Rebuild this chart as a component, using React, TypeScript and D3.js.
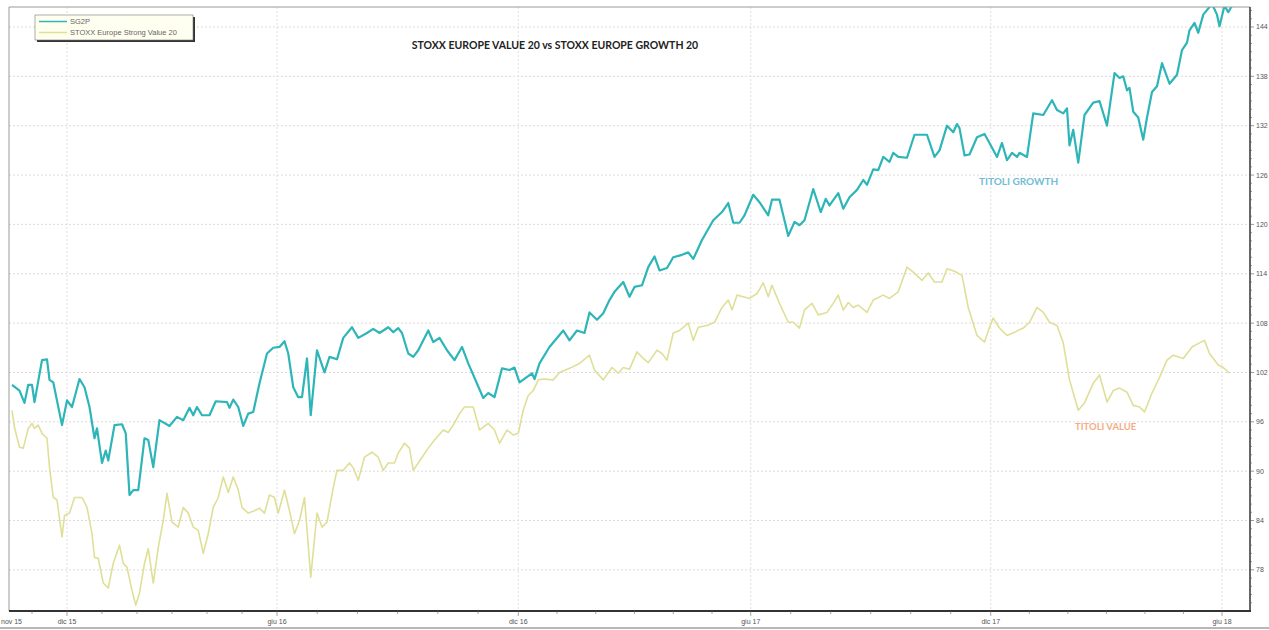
import React, { useEffect, useRef } from "react";
import * as d3 from "d3";

const width = 1269;
const height = 630;

// x values are days counted from the first session shown (mid Oct 2015)
const growthDays = [0, 6, 10, 13, 16, 18, 24, 28, 30, 33, 40, 44, 48, 54, 58, 62, 66, 68, 72, 75, 77, 82, 88, 91, 94, 97, 101, 106, 109, 113, 118, 126, 132, 137, 142, 145, 148, 152, 158, 163, 172, 174, 177, 181, 185, 189, 193, 198, 204, 209, 214, 218, 221, 225, 229, 232, 236, 239, 244, 248, 250, 254, 260, 265, 272, 277, 284, 289, 294, 301, 305, 309, 312, 317, 321, 325, 333, 337, 342, 348, 354, 360, 365, 377, 381, 386, 392, 398, 402, 406, 416, 418, 422, 430, 441, 446, 452, 458, 462, 468, 473, 478, 482, 489, 494, 498, 504, 509, 514, 518, 524, 529, 536, 541, 545, 552, 561, 568, 573, 577, 582, 586, 593, 598, 605, 608, 614, 621, 626, 630, 634, 641, 647, 651, 654, 661, 665, 670, 676, 681, 684, 689, 693, 697, 702, 705, 709, 716, 722, 728, 732, 738, 742, 748, 753, 756, 758, 762, 766, 772, 778, 782, 788, 792, 796, 800, 804, 806, 812, 817, 825, 832, 836, 841, 844, 846, 849, 853, 858, 865, 870, 876, 882, 886, 889, 892, 894, 897, 901, 905, 908, 912, 916, 920, 926, 932, 936, 940, 942, 946, 949, 953, 960, 964, 966, 970, 973, 976];
const growthValues = [100.5, 99.8, 98.3, 100.5, 100.5, 98.4, 103.5, 103.6, 101.1, 100.8, 95.6, 98.6, 97.8, 101.2, 100.2, 97.8, 94.0, 95.2, 91.0, 92.5, 91.3, 95.6, 95.7, 94.6, 87.1, 87.7, 87.7, 94.0, 93.8, 90.5, 96.2, 95.5, 96.6, 96.2, 97.7, 96.8, 97.8, 96.8, 96.8, 98.5, 98.4, 97.7, 98.7, 97.8, 95.5, 97.0, 97.2, 100.7, 104.3, 105.0, 105.1, 105.8, 104.3, 100.2, 99.0, 99.0, 103.7, 96.8, 104.7, 102.9, 102.0, 103.9, 103.6, 106.2, 107.5, 106.2, 106.8, 107.3, 106.8, 107.5, 106.9, 107.4, 106.8, 104.3, 103.9, 104.7, 107.1, 105.7, 106.2, 104.7, 103.5, 105.1, 103.1, 98.9, 99.5, 99.0, 102.5, 102.3, 102.6, 100.8, 101.9, 101.2, 103.1, 105.1, 107.1, 105.9, 107.1, 106.8, 109.3, 108.4, 109.2, 110.8, 111.8, 113.0, 111.2, 112.4, 112.6, 114.8, 116.1, 114.4, 114.7, 116.0, 116.3, 116.6, 115.8, 118.1, 120.5, 121.5, 122.6, 120.2, 120.2, 121.1, 123.6, 122.7, 121.1, 123.0, 123.0, 118.6, 120.3, 119.9, 120.5, 124.3, 121.5, 123.1, 122.3, 123.8, 121.9, 123.3, 124.2, 125.4, 124.8, 126.7, 126.6, 128.2, 127.6, 128.7, 128.2, 128.1, 130.9, 130.9, 130.9, 128.2, 129.0, 132.0, 131.2, 132.2, 131.7, 128.4, 128.5, 130.6, 131.0, 129.9, 128.2, 129.9, 127.8, 128.7, 128.2, 128.7, 128.2, 133.5, 133.3, 135.1, 133.9, 133.5, 134.1, 129.6, 131.5, 127.5, 133.3, 134.8, 135.0, 132.0, 138.4, 137.8, 138.0, 136.3, 136.6, 133.7, 133.0, 130.3, 133.0, 136.1, 136.8, 139.6, 137.1, 138.2, 141.2, 142.1, 143.6, 144.5, 143.3, 145.5, 146.8, 145.5, 144.1, 146.6, 145.8, 146.6];

const valueDays = [0, 2, 6, 9, 13, 16, 18, 21, 24, 28, 30, 33, 36, 40, 42, 46, 50, 56, 60, 64, 66, 69, 73, 77, 81, 86, 89, 92, 96, 99, 102, 106, 109, 113, 117, 121, 124, 128, 133, 137, 141, 145, 149, 153, 157, 161, 165, 169, 173, 177, 181, 184, 189, 194, 198, 202, 206, 210, 213, 218, 222, 226, 230, 234, 239, 244, 248, 252, 257, 260, 265, 270, 273, 277, 282, 288, 293, 297, 301, 306, 309, 314, 318, 321, 325, 333, 338, 345, 349, 353, 358, 362, 369, 374, 381, 386, 390, 396, 401, 405, 409, 413, 417, 421, 425, 433, 438, 446, 454, 462, 466, 473, 480, 485, 489, 494, 500, 505, 509, 516, 520, 524, 529, 534, 541, 545, 549, 556, 562, 568, 573, 576, 580, 585, 590, 596, 601, 605, 608, 614, 621, 625, 630, 634, 640, 645, 652, 657, 661, 665, 669, 673, 677, 684, 689, 697, 702, 709, 716, 721, 728, 733, 738, 744, 748, 754, 760, 765, 772, 778, 782, 785, 790, 796, 802, 809, 814, 820, 825, 830, 836, 841, 846, 853, 858, 865, 870, 876, 881, 886, 892, 897, 902, 906, 912, 918, 924, 929, 937, 944, 950, 954, 958, 965, 969, 974];
const valueValues = [97.4, 95.3, 92.9, 92.8, 95.2, 95.8, 95.2, 95.6, 94.6, 94.0, 90.5, 86.8, 86.5, 82.0, 84.6, 84.9, 86.8, 86.8, 85.6, 82.4, 79.5, 79.4, 76.4, 75.8, 78.8, 81.0, 78.8, 78.3, 75.5, 73.7, 75.2, 78.8, 80.6, 76.4, 80.7, 84.0, 87.3, 83.8, 83.2, 85.6, 84.9, 83.2, 82.8, 80.0, 82.4, 85.6, 86.8, 89.3, 87.4, 89.3, 87.7, 85.6, 84.9, 85.2, 85.5, 84.9, 87.1, 86.8, 84.9, 87.7, 85.2, 82.4, 84.0, 86.8, 77.1, 84.9, 83.2, 83.8, 88.0, 90.1, 90.1, 91.0, 90.4, 88.9, 91.7, 92.3, 91.7, 90.1, 91.0, 91.0, 92.2, 93.4, 92.8, 90.1, 91.0, 92.8, 93.8, 95.0, 94.7, 95.6, 97.0, 97.8, 97.8, 95.0, 95.8, 95.0, 93.4, 95.0, 94.4, 94.6, 97.4, 99.2, 99.8, 101.1, 101.2, 101.1, 102.0, 102.5, 103.1, 104.1, 102.3, 101.1, 102.6, 101.9, 102.6, 102.4, 104.5, 103.7, 103.2, 104.7, 104.3, 103.5, 106.8, 107.1, 108.0, 105.9, 107.5, 107.7, 108.1, 109.9, 110.8, 109.6, 111.4, 111.2, 111.0, 111.6, 112.9, 111.2, 112.6, 110.4, 108.1, 108.1, 107.4, 109.6, 110.4, 109.0, 109.3, 110.4, 111.4, 109.6, 110.5, 109.9, 110.2, 109.3, 110.8, 111.4, 111.0, 111.8, 114.8, 114.2, 113.2, 114.1, 113.0, 113.0, 114.6, 114.3, 113.8, 109.9, 106.5, 105.7, 107.5, 108.6, 107.4, 106.5, 106.9, 107.4, 108.1, 109.9, 109.3, 108.1, 107.7, 105.6, 101.1, 97.4, 98.3, 100.7, 101.7, 98.4, 99.8, 100.1, 99.6, 98.0, 97.8, 97.2, 99.5, 101.4, 103.5, 104.1, 103.7, 105.1, 105.6, 105.9, 104.3, 102.9, 102.6, 101.9];

const yTicks = [78, 84, 90, 96, 102, 108, 114, 120, 126, 132, 138, 144];
const xTickLabels = ["nov 15", "dic 15", "giu 16", "dic 16", "giu 17", "dic 17", "giu 18"];
const xTickDays = [-6, 44, 212, 405, 591, 783, 968];

const legendLabels = ["SG2P", "STOXX Europe Strong Value 20"];
const chartTitle = "STOXX EUROPE VALUE 20 vs STOXX EUROPE GROWTH 20";
const growthNote = "TITOLI GROWTH";
const valueNote = "TITOLI VALUE";

const growthColor = "#2db5b8";
const valueColor = "#dfdf98";

export default function App() {
  const svgRef = useRef<SVGSVGElement>(null);

  useEffect(() => {
    const svg = d3.select(svgRef.current);
    svg.selectAll("*").remove();

    const left = 9, right = 1250, top = 7, bottom = 611;

    const x = d3.scaleLinear().domain([-2.4, 990.4]).range([left, right]);
    const y = d3.scaleLinear().domain([73, 146.43]).range([bottom, top]);

    svg.append("rect").attr("width", width).attr("height", height).attr("fill", "#fff");

    svg.append("defs").append("clipPath").attr("id", "plot-clip")
      .append("rect")
      .attr("x", left).attr("y", top)
      .attr("width", right - left).attr("height", bottom - top);

    // grid
    const grid = svg.append("g");
    grid.selectAll("line.h")
      .data(yTicks)
      .join("line")
      .attr("x1", left).attr("x2", right)
      .attr("y1", (d) => y(d)).attr("y2", (d) => y(d))
      .attr("stroke", "#e0dada").attr("stroke-dasharray", "2,2");
    grid.selectAll("line.v")
      .data(xTickDays.filter((d) => x(d) > left))
      .join("line")
      .attr("x1", (d) => x(d)).attr("x2", (d) => x(d))
      .attr("y1", top).attr("y2", bottom)
      .attr("stroke", "#e0e0e0").attr("stroke-dasharray", "2,2");

    // series
    const plot = svg.append("g").attr("clip-path", "url(#plot-clip)");
    const line = d3.line<[number, number]>()
      .x((d) => x(d[0]))
      .y((d) => y(d[1]));

    plot.append("path")
      .datum(valueDays.map((d, i) => [d, valueValues[i]] as [number, number]))
      .attr("d", line)
      .attr("fill", "none")
      .attr("stroke", valueColor)
      .attr("stroke-width", 1.6)
      .attr("stroke-linejoin", "round");

    plot.append("path")
      .datum(growthDays.map((d, i) => [d, growthValues[i]] as [number, number]))
      .attr("d", line)
      .attr("fill", "none")
      .attr("stroke", growthColor)
      .attr("stroke-width", 2.2)
      .attr("stroke-linejoin", "round");

    // frame
    svg.append("line").attr("x1", left).attr("x2", left).attr("y1", top).attr("y2", bottom)
      .attr("stroke", "#9a9a9a");
    svg.append("line").attr("x1", left).attr("x2", right).attr("y1", top).attr("y2", top)
      .attr("stroke", "#9a9a9a");
    svg.append("line").attr("x1", right).attr("x2", right).attr("y1", top).attr("y2", bottom + 1)
      .attr("stroke", "#333").attr("stroke-width", 1.5);
    svg.append("line").attr("x1", left).attr("x2", right + 1).attr("y1", bottom).attr("y2", bottom)
      .attr("stroke", "#333").attr("stroke-width", 2);
    svg.append("line").attr("x1", 0).attr("x2", width).attr("y1", 628).attr("y2", 628)
      .attr("stroke", "#b8b8b8").attr("stroke-width", 2);

    // right axis
    const minor = d3.range(74, 147, 1);
    svg.append("g").selectAll("line")
      .data(minor)
      .join("line")
      .attr("x1", right).attr("x2", (d) => right + (yTicks.includes(d) ? 4 : 2))
      .attr("y1", (d) => y(d)).attr("y2", (d) => y(d))
      .attr("stroke", "#555").attr("stroke-width", 0.6);
    svg.append("g").selectAll("text")
      .data(yTicks)
      .join("text")
      .attr("x", right + 6)
      .attr("y", (d) => y(d) + 2.5)
      .attr("font-family", "Liberation Sans, Arial, sans-serif")
      .attr("font-size", 7)
      .attr("fill", "#555")
      .text((d) => d);

    // bottom axis
    const minorX: number[] = [];
    for (let i = 1; i < xTickDays.length - 1; i++) {
      const a = xTickDays[i], b = xTickDays[i + 1];
      for (let k = 1; k < 6; k++) minorX.push(a + ((b - a) * k) / 6);
    }
    minorX.push(xTickDays[1] - (xTickDays[2] - xTickDays[1]) / 6);
    svg.append("g").selectAll("line")
      .data(minorX.filter((d) => x(d) > left && x(d) < right))
      .join("line")
      .attr("x1", (d) => x(d)).attr("x2", (d) => x(d))
      .attr("y1", bottom).attr("y2", bottom + 3)
      .attr("stroke", "#666").attr("stroke-width", 0.6);
    svg.append("g").selectAll("line")
      .data(xTickDays.filter((d) => x(d) > left))
      .join("line")
      .attr("x1", (d) => x(d)).attr("x2", (d) => x(d))
      .attr("y1", bottom).attr("y2", bottom + 5)
      .attr("stroke", "#666").attr("stroke-width", 0.6);
    svg.append("g").selectAll("text")
      .data(xTickLabels)
      .join("text")
      .attr("x", (d, i) => (x(xTickDays[i]) > left ? x(xTickDays[i]) : 1))
      .attr("y", 624)
      .attr("text-anchor", (d, i) => (x(xTickDays[i]) > left ? "middle" : "start"))
      .attr("font-family", "Liberation Sans, Arial, sans-serif")
      .attr("font-size", 7)
      .attr("fill", "#555")
      .text((d) => d);

    // legend
    const lg = svg.append("g");
    lg.append("rect").attr("x", 37).attr("y", 17).attr("width", 158).attr("height", 25)
      .attr("fill", "#333");
    lg.append("rect").attr("x", 35).attr("y", 15).attr("width", 158).attr("height", 25)
      .attr("fill", "#fffff0").attr("stroke", "#777").attr("stroke-width", 0.6);
    [growthColor, valueColor].forEach((c, i) => {
      lg.append("line").attr("x1", 39).attr("x2", 67)
        .attr("y1", 21.5 + i * 11).attr("y2", 21.5 + i * 11)
        .attr("stroke", c).attr("stroke-width", 1.5);
      lg.append("text").attr("x", 70).attr("y", 24 + i * 11)
        .attr("font-family", "Liberation Sans, Arial, sans-serif")
        .attr("font-size", 7.5)
        .attr("fill", "#666")
        .text(legendLabels[i]);
    });

    // title + notes
    svg.append("text")
      .attr("x", 555).attr("y", 49)
      .attr("text-anchor", "middle")
      .attr("font-family", "Lato, Open Sans, sans-serif")
      .attr("font-weight", "bold")
      .attr("font-size", 10.5)
      .attr("fill", "#222")
      .text(chartTitle);
    svg.append("text")
      .attr("x", 979).attr("y", 185)
      .attr("font-family", "Lato, Open Sans, sans-serif")
      .attr("font-weight", "bold")
      .attr("font-size", 10)
      .attr("fill", "#72bcd8")
      .text(growthNote);
    svg.append("text")
      .attr("x", 1075).attr("y", 430)
      .attr("font-family", "Lato, Open Sans, sans-serif")
      .attr("font-weight", "bold")
      .attr("font-size", 9.5)
      .attr("fill", "#f4ad84")
      .text(valueNote);
  }, []);

  return (
    <svg
      ref={svgRef}
      width={width}
      height={height}
      style={{ position: "absolute", left: 0, top: 0, display: "block" }}
    />
  );
}
